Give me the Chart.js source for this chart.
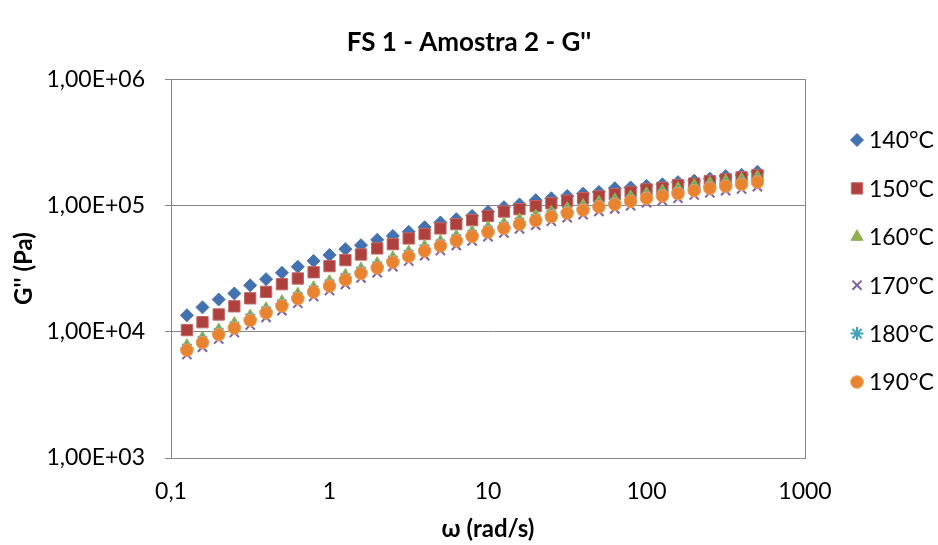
<!DOCTYPE html>
<html>
<head>
<meta charset="utf-8">
<script src="https://cdn.jsdelivr.net/npm/chart.js@4.4.1/dist/chart.umd.min.js"></script>
<style>
  html, body { margin: 0; padding: 0; background: #fff; }
  #wrap { width: 938px; height: 545px; }
</style>
</head>
<body>
<div id="wrap"><canvas id="myChart" width="938" height="545"></canvas></div>
<script>
// angular frequency (rad/s)
var omega = [0.126, 0.158, 0.2, 0.251, 0.316, 0.398, 0.501, 0.631, 0.794, 1,
  1.26, 1.58, 2, 2.51, 3.16, 3.98, 5.01, 6.31, 7.94, 10,
  12.6, 15.8, 20, 25.1, 31.6, 39.8, 50.1, 63.1, 79.4, 100,
  126, 158, 200, 251, 316, 398, 501];

// G'' (Pa) per temperature
var g140 = [13500, 15600, 18000, 20100, 23300, 26100, 29300, 32700, 36400, 40600,
  45100, 48500, 53400, 57400, 61800, 67300, 73300, 77900, 82700, 89000,
  97000, 102000, 110000, 114000, 119000, 124000, 128000, 137000, 139000, 143000,
  147000, 153000, 157000, 163000, 171000, 175000, 185000];
var g150 = [10300, 11900, 13700, 15900, 18400, 20700, 23800, 26400, 29600, 33100,
  36900, 40900, 45700, 49400, 54800, 59300, 65800, 71100, 76500, 82700,
  89500, 93500, 98700, 104000, 109000, 114000, 118000, 123000, 128000, 134000,
  138000, 145000, 149000, 156000, 161000, 167000, 174000];
var g160 = [7750, 8900, 10300, 11600, 13300, 15200, 17300, 19800, 22300, 24900,
  27900, 31400, 34600, 38500, 42700, 47200, 51700, 56800, 61700, 66600,
  71500, 77000, 82400, 88400, 94400, 99800, 106000, 111000, 117000, 124000,
  130000, 136000, 144000, 150000, 156000, 161000, 168000];
var g170 = [6600, 7550, 8750, 9850, 11300, 13000, 14700, 16800, 19000, 21200,
  23700, 26700, 29400, 32800, 36300, 40100, 44000, 48300, 52400, 56600,
  60700, 65300, 69900, 75000, 80000, 84600, 89700, 93800, 99400, 105000,
  109000, 114000, 121000, 126000, 131000, 135000, 141000];
var g180 = [7350, 8450, 9800, 11000, 12700, 14500, 16500, 18800, 21200, 23700,
  26600, 29900, 33000, 36700, 40700, 44900, 49200, 54100, 58700, 63300,
  68000, 73100, 78300, 83900, 89600, 94800, 100000, 105000, 111000, 117000,
  123000, 128000, 135000, 141000, 146000, 151000, 158000];
var g190 = [7150, 8200, 9500, 10700, 12300, 14100, 16000, 18300, 20600, 23000,
  25800, 29000, 32000, 35600, 39500, 43600, 47800, 52500, 57000, 61500,
  66000, 71000, 76000, 81500, 87000, 92000, 97500, 102000, 108000, 114000,
  119000, 124000, 131000, 137000, 142000, 147000, 153000];

var seriesLabels = ["140°C", "150°C", "160°C", "170°C", "180°C", "190°C"];

var xTicks = [0.1, 1, 10, 100, 1000];
var xTickLabels = ["0,1", "1", "10", "100", "1000"];
var yTicks = [1000, 10000, 100000, 1000000];
var yTickLabels = ["1,00E+03", "1,00E+04", "1,00E+05", "1,00E+06"];

function pts(vals) {
  return omega.map(function (w, i) { return {x: w, y: vals[i]}; });
}

Chart.defaults.font.family = "Lato, 'Open Sans', sans-serif";
Chart.defaults.color = "#000";

// plot frame (Excel-like box round the plot area)
var frame = {
  id: 'frame',
  afterDatasetsDraw: function (chart) {
    var a = chart.chartArea, ctx = chart.ctx;
    ctx.save();
    ctx.strokeStyle = '#868686';
    ctx.lineWidth = 1;
    ctx.strokeRect(Math.round(a.left) + 0.5, Math.round(a.top) + 0.5,
      Math.round(a.right - a.left), Math.round(a.bottom - a.top));
    ctx.restore();
  }
};

// legend on the right, drawn with the datasets' own marker styles
var sideLegend = {
  id: 'sideLegend',
  afterDraw: function (chart) {
    var ctx = chart.ctx;
    ctx.save();
    chart.data.datasets.forEach(function (ds, i) {
      var y = 140 + i * 48.4;
      ctx.fillStyle = ds.backgroundColor;
      ctx.strokeStyle = ds.borderColor;
      ctx.lineWidth = ds.borderWidth;
      Chart.helpers.drawPoint(ctx, {
        pointStyle: ds.pointStyle,
        radius: ds.pointRadius,
        borderWidth: ds.borderWidth,
        rotation: 0
      }, 857, y);
      ctx.fillStyle = '#000';
      ctx.font = "23px Lato, 'Open Sans', sans-serif";
      ctx.textAlign = 'left';
      ctx.textBaseline = 'middle';
      ctx.fillText(ds.label, 869, y + 1);
    });
    ctx.restore();
  }
};

var ctx = document.getElementById('myChart').getContext('2d');
var myChart = new Chart(ctx, {
  type: 'scatter',
  data: {
    datasets: [{
        data: pts(g140),
        label: seriesLabels[0],
        pointStyle: 'rectRot',
        pointRadius: 6.5,
        backgroundColor: '#4472B0',
        borderColor: '#4472B0',
        borderWidth: 1,
        order: 6
      }, {
        data: pts(g150),
        label: seriesLabels[1],
        pointStyle: 'rect',
        pointRadius: 8,
        backgroundColor: '#AE403D',
        borderColor: '#C06866',
        borderWidth: 1,
        order: 5
      }, {
        data: pts(g160),
        label: seriesLabels[2],
        pointStyle: 'triangle',
        pointRadius: 7,
        backgroundColor: '#8FB04F',
        borderColor: '#8FB04F',
        borderWidth: 1,
        order: 4
      }, {
        data: pts(g170),
        label: seriesLabels[3],
        pointStyle: 'crossRot',
        pointRadius: 6.5,
        backgroundColor: '#7D60A0',
        borderColor: '#7D60A0',
        borderWidth: 2,
        order: 3
      }, {
        data: pts(g180),
        label: seriesLabels[4],
        pointStyle: 'star',
        pointRadius: 6.5,
        backgroundColor: '#3FA2BD',
        borderColor: '#3FA2BD',
        borderWidth: 2,
        order: 2
      }, {
        data: pts(g190),
        label: seriesLabels[5],
        pointStyle: 'circle',
        pointRadius: 6.3,
        backgroundColor: '#E8842F',
        borderColor: '#EE9E5C',
        borderWidth: 1,
        order: 1
      }
    ]
  },
  options: {
    responsive: false,
    animation: false,
    layout: {
      padding: {left: 0, right: 0, top: 0, bottom: 0}
    },
    plugins: {
      legend: { display: false },
      tooltip: { enabled: false },
      title: {
        display: true,
        text: "FS 1 - Amostra 2 - G''",
        color: '#000',
        font: { size: 26, weight: 'bold' },
        padding: { top: 27, bottom: 21 }
      }
    },
    scales: {
      x: {
        type: 'logarithmic',
        min: 0.1,
        max: 1000,
        afterBuildTicks: function (s) {
          s.ticks = xTicks.map(function (v) { return {value: v}; });
        },
        afterFit: function (s) { s.height = 87; },
        ticks: {
          autoSkip: false,
          maxRotation: 0,
          padding: 20,
          font: { size: 23 },
          callback: function (v) {
            var i = xTicks.indexOf(v);
            return i >= 0 ? xTickLabels[i] : '';
          }
        },
        grid: { display: false, drawTicks: false },
        border: { display: true, color: '#868686' },
        title: {
          display: true,
          text: 'ω (rad/s)',
          font: { size: 24, weight: 'bold' },
          padding: { top: 0, bottom: 1 }
        }
      },
      y: {
        type: 'logarithmic',
        min: 1000,
        max: 1000000,
        afterBuildTicks: function (s) {
          s.ticks = yTicks.map(function (v) { return {value: v}; });
        },
        afterFit: function (s) { s.width = 171; },
        ticks: {
          autoSkip: false,
          padding: 20,
          font: { size: 23 },
          callback: function (v) {
            var i = yTicks.indexOf(v);
            return i >= 0 ? yTickLabels[i] : '';
          }
        },
        grid: { color: '#868686', lineWidth: 1, drawTicks: true, tickLength: 6 },
        border: { display: true, color: '#868686' },
        title: {
          display: true,
          text: "G'' (Pa)",
          font: { size: 24, weight: 'bold' },
          padding: { top: 10, bottom: 0 }
        }
      },
      // empty space on the right that holds the legend
      legendSpace: {
        type: 'linear',
        axis: 'y',
        position: 'right',
        display: true,
        afterFit: function (s) { s.width = 133; },
        ticks: { display: false },
        grid: { display: false, drawTicks: false },
        border: { display: false }
      }
    }
  },
  plugins: [frame, sideLegend]
});
</script>
</body>
</html>
